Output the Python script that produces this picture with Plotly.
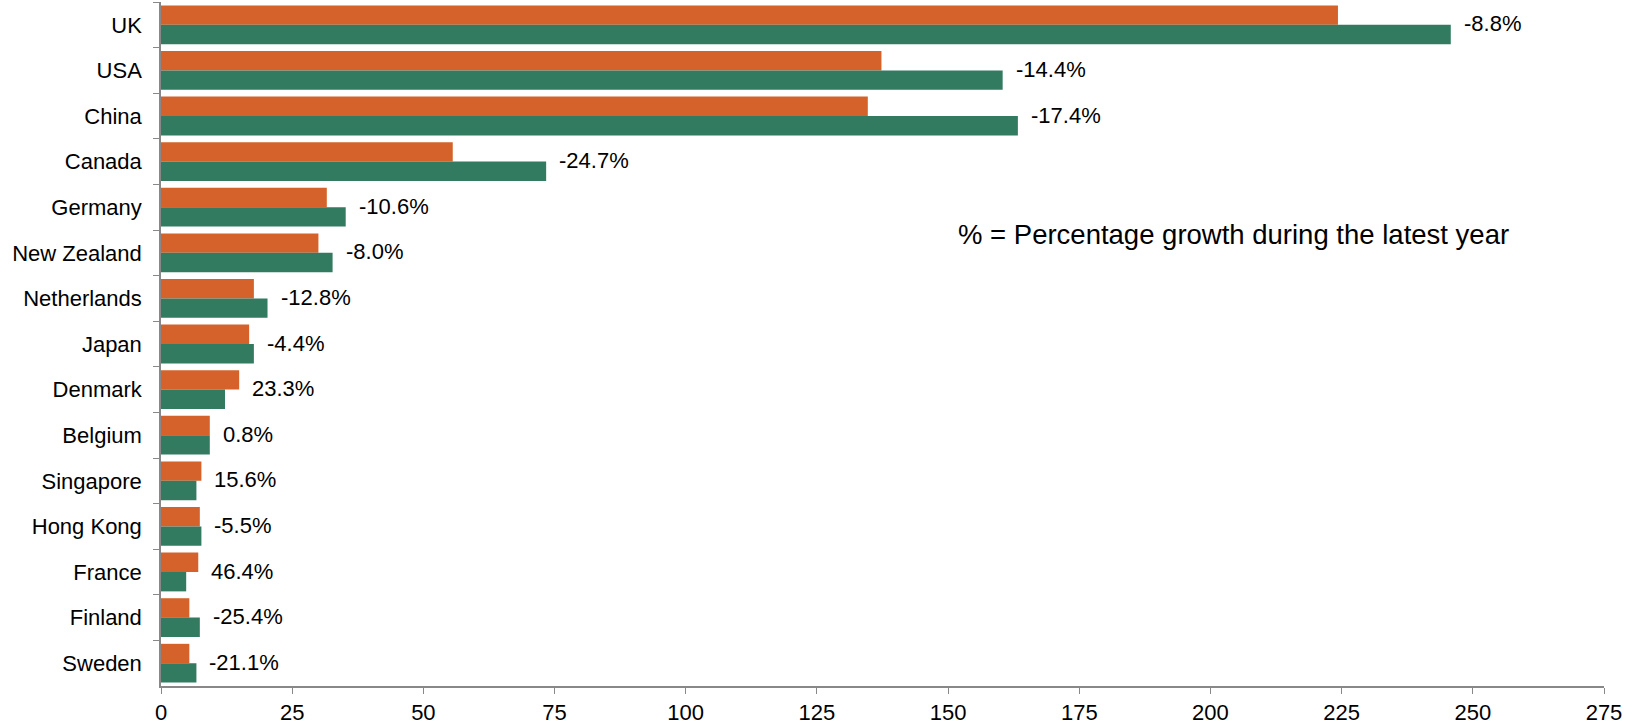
import plotly.graph_objects as go

countries = ["UK", "USA", "China", "Canada", "Germany", "New Zealand", "Netherlands",
             "Japan", "Denmark", "Belgium", "Singapore", "Hong Kong", "France",
             "Finland", "Sweden"]
latest = [224.3, 137.3, 134.7, 55.6, 31.6, 30.0, 17.7, 16.8, 14.9, 9.3, 7.7, 7.4, 7.1, 5.4, 5.4]
previous = [245.8, 160.4, 163.3, 73.4, 35.2, 32.7, 20.3, 17.7, 12.2, 9.3, 6.75, 7.7, 4.8, 7.4, 6.75]
growth = ["-8.8%", "-14.4%", "-17.4%", "-24.7%", "-10.6%", "-8.0%", "-12.8%", "-4.4%",
          "23.3%", "0.8%", "15.6%", "-5.5%", "46.4%", "-25.4%", "-21.1%"]
x_ticks = [0, 25, 50, 75, 100, 125, 150, 175, 200, 225, 250, 275]
note = "% = Percentage growth during the latest year"

ORANGE = "#D5622A"
GREEN = "#327B60"
FONT = "Liberation Sans, Arial, sans-serif"
FS = 22

fig = go.Figure()
fig.add_trace(go.Bar(y=countries, x=latest, orientation="h", name="Latest",
                     marker=dict(color=ORANGE, line=dict(width=0))))
fig.add_trace(go.Bar(y=countries, x=previous, orientation="h", name="Previous",
                     marker=dict(color=GREEN, line=dict(width=0))))

for c, a, b, g in zip(countries, latest, previous, growth):
    fig.add_annotation(x=max(a, b), y=c, text=g, showarrow=False, xanchor="left",
                       yanchor="middle", xshift=11, yshift=1,
                       font=dict(size=FS, color="#000", family=FONT))

fig.add_annotation(x=0.743, y=0.66, xref="paper", yref="paper", text=note, showarrow=False,
                   xanchor="center", yanchor="middle", font=dict(size=27.5, color="#000", family=FONT))

fig.update_layout(
    width=1627, height=728,
    margin=dict(l=161, r=23, t=2, b=42),
    paper_bgcolor="white", plot_bgcolor="white",
    barmode="group", bargap=0.15, bargroupgap=0,
    showlegend=False,
    font=dict(family=FONT, size=FS, color="#000"),
)
fig.update_xaxes(range=[0, 275], tickvals=x_ticks, ticks="outside", ticklen=6,
                 tickcolor="#888", showline=True, linecolor="#888", linewidth=1.5,
                 showgrid=False, zeroline=False, tickfont=dict(size=FS, family=FONT))
fig.update_yaxes(autorange="reversed", ticks="outside", ticklen=6, tickcolor="#888",
                 showline=True, linecolor="#888", linewidth=1.5, showgrid=False,
                 tickson="boundaries", ticklabelstandoff=13,
                 tickfont=dict(size=FS, family=FONT))

fig.write_html("out.html")
